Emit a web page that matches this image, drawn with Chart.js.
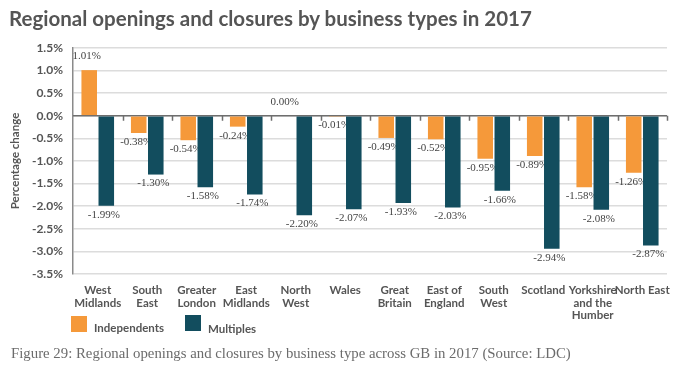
<!DOCTYPE html>
<html>
<head>
<meta charset="utf-8">
<script src="https://cdn.jsdelivr.net/npm/chart.js@4/dist/chart.umd.min.js"></script>
<style>
  html, body { margin:0; padding:0; background:#fff; }
  #wrap { position:relative; width:682px; height:375px; overflow:hidden; }
  #title { position:absolute; left:9px; top:6px; font-family:Lato, sans-serif; font-weight:bold; font-size:20.5px; color:#555; white-space:nowrap; }
  #cv { position:absolute; left:0; top:0; }
  .leg { position:absolute; font-family:Lato, sans-serif; font-weight:bold; font-size:11.5px; color:#555; white-space:nowrap; }
  .sw { position:absolute; width:16px; height:16px; }
  #caption { position:absolute; left:11px; top:345px; font-family:"Liberation Serif", serif; font-size:14.8px; color:#6b6b6b; white-space:nowrap; }
</style>
</head>
<body>
<div id="wrap">
  <canvas id="cv" width="682" height="375"></canvas>
  <div id="title">Regional openings and closures by business types in 2017</div>
  <div class="sw" style="left:71px;top:316px;background:#F5993A"></div>
  <div class="leg" style="left:94px;top:321px;">Independents</div>
  <div class="sw" style="left:185px;top:315px;background:#124D5E"></div>
  <div class="leg" style="left:208px;top:322px;">Multiples</div>
  <div id="caption">Figure 29: Regional openings and closures by business type across GB in 2017 (Source: LDC)</div>
</div>
<script>
const categories = ["West Midlands","South East","Greater London","East Midlands","North West","Wales","Great Britain","East of England","South West","Scotland","Yorkshire and the Humber","North East"];
const categoryLines = [["West","Midlands"],["South","East"],["Greater","London"],["East","Midlands"],["North","West"],["Wales"],["Great","Britain"],["East of","England"],["South","West"],["Scotland"],["Yorkshire","and the","Humber"],["North East"]];
const independents = [1.01,-0.38,-0.54,-0.24,0.00,-0.01,-0.49,-0.52,-0.95,-0.89,-1.58,-1.26];
const multiples = [-1.99,-1.30,-1.58,-1.74,-2.20,-2.07,-1.93,-2.03,-1.66,-2.94,-2.08,-2.87];
const yTicks = [1.5,1.0,0.5,0.0,-0.5,-1.0,-1.5,-2.0,-2.5,-3.0,-3.5];

const valueLabels = {
  id: 'valueLabels',
  beforeDatasetsDraw(chart) {
    const ctx = chart.ctx;
    const y0 = chart.scales.y.getPixelForValue(0);
    const ca = chart.chartArea;
    ctx.save();
    // zero line with category tick marks
    ctx.strokeStyle = '#6e6e6e';
    ctx.lineWidth = 1.5;
    ctx.beginPath();
    ctx.moveTo(ca.left, y0);
    ctx.lineTo(ca.right, y0);
    const n = categories.length;
    const w = (ca.right - ca.left) / n;
    for (let i = 1; i <= n; i++) {
      const px = Math.round(ca.left + i * w) + 0.5;
      ctx.moveTo(px, y0);
      ctx.lineTo(px, y0 + 5);
    }
    ctx.stroke();
    // value labels (drawn beneath the bars)
    ctx.font = '11px "Liberation Serif", serif';
    ctx.fillStyle = '#444';
    ctx.textAlign = 'center';
    ctx.textBaseline = 'middle';
    chart.data.datasets.forEach((ds, di) => {
      const meta = chart.getDatasetMeta(di);
      meta.data.forEach((bar, i) => {
        const v = ds.data[i];
        const txt = v.toFixed(2) + '%';
        const y = v >= 0 ? bar.y - 14 : bar.y + 9;
        ctx.fillText(txt, bar.x - 2.5, y);
      });
    });
    ctx.restore();
  }
};

new Chart(document.getElementById('cv'), {
  type: 'bar',
  data: {
    labels: categoryLines,
    datasets: [
      { label: 'Independents', data: independents, backgroundColor: '#F5993A', categoryPercentage: 0.69, barPercentage: 0.91 },
      { label: 'Multiples', data: multiples, backgroundColor: '#124D5E', categoryPercentage: 0.69, barPercentage: 0.91 }
    ]
  },
  options: {
    responsive: false,
    animation: false,
    devicePixelRatio: 1,
    layout: { padding: { top: 48, right: 15, left: 0, bottom: 0 } },
    plugins: { legend: { display: false }, tooltip: { enabled: false } },
    scales: {
      x: {
        grid: { display: false },
        border: { display: false },
        ticks: {
          color: '#555',
          font: { family: 'Lato', weight: 'bold', size: 11.5, lineHeight: 1.1 },
          padding: 2,
          maxRotation: 0,
          autoSkip: false
        },
        afterFit(scale) { scale.height = 101; }
      },
      y: {
        min: -3.5, max: 1.5,
        afterBuildTicks(scale) { scale.ticks = yTicks.map(v => ({ value: v })); },
        grid: {
          drawTicks: false,
          color: '#dcdcdc',
          lineWidth: 1.5
        },
        border: { display: true, color: '#8a8a8a', width: 1.5 },
        ticks: {
          color: '#555',
          font: { family: 'Lato', weight: 'bold', size: 12 },
          padding: 10,
          callback: (v) => Number(v).toFixed(1) + '%'
        },
        title: {
          display: true,
          text: 'Percentage change',
          color: '#555',
          font: { family: 'Lato', weight: 'bold', size: 11.5 },
          padding: { top: 8, bottom: 0 }
        },
        afterFit(scale) { scale.width = 73; }
      }
    }
  },
  plugins: [valueLabels]
});
</script>
</body>
</html>
